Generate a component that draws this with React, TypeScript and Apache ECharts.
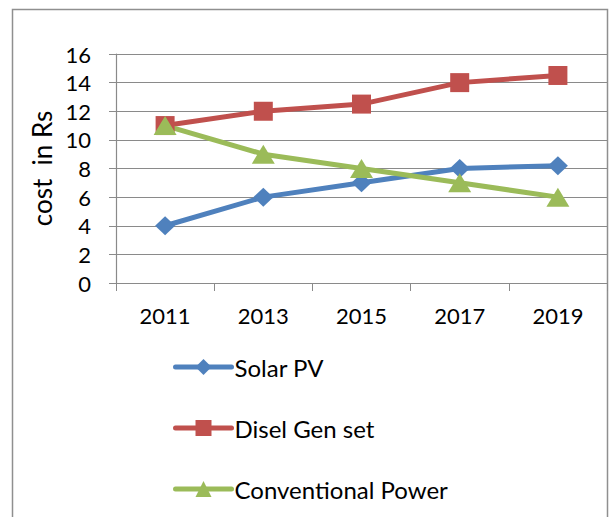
import React, { useEffect, useRef } from "react";
import * as echarts from "echarts";

const years = ["2011", "2013", "2015", "2017", "2019"];
const solarPV = [4, 6, 7, 8, 8.2];
const diselGen = [11, 12, 12.5, 14, 14.5];
const conventional = [11, 9, 8, 7, 6];
const seriesNames = ["Solar PV", "Disel Gen set", "Conventional Power"];
const yAxisName = "cost  in Rs";

const FONT = "Lato, 'Open Sans', sans-serif";
const GRID_COLOR = "#8a8a8a";

export default function App() {
  const ref = useRef<HTMLDivElement>(null);
  useEffect(() => {
    if (!ref.current) return;
    const chart = echarts.init(ref.current, undefined, { renderer: "svg" });
    chart.setOption({
      animation: false,
      backgroundColor: "#ffffff",
      textStyle: { fontFamily: FONT },
      graphic: [
        {
          type: "rect",
          shape: { x: 12.5, y: 9.5, width: 595, height: 520 },
          style: { fill: "none", stroke: "#8f8f8f", lineWidth: 1.5 },
          silent: true,
          z: -1,
        },
      ],
      grid: { left: 116, right: 2, top: 54, height: 229 },
      legend: {
        orient: "vertical",
        left: 173,
        top: 355,
        width: 400,
        height: 160,
        padding: 0,
        itemWidth: 56,
        itemHeight: 20,
        itemGap: 37,
        lineStyle: { width: 5 },
        textStyle: { fontSize: 24, lineHeight: 20, color: "#000", fontFamily: FONT, padding: [0, 0, 0, -2] },
        data: seriesNames,
      },
      xAxis: {
        type: "category",
        data: years,
        boundaryGap: true,
        axisLine: { lineStyle: { color: GRID_COLOR, width: 1.2 } },
        axisTick: { show: true, length: 8, lineStyle: { color: GRID_COLOR } },
        axisLabel: { fontSize: 22, color: "#000", margin: 21, fontFamily: FONT },
      },
      yAxis: {
        type: "value",
        min: 0,
        max: 16,
        interval: 2,
        name: yAxisName,
        nameLocation: "middle",
        nameGap: 58,
        nameTextStyle: { fontSize: 26, color: "#000", fontFamily: FONT },
        axisLine: { show: true, lineStyle: { color: GRID_COLOR, width: 1.2 } },
        axisTick: { show: true, inside: false, length: 7, lineStyle: { color: GRID_COLOR } },
        axisLabel: { fontSize: 22, color: "#000", margin: 25, fontFamily: FONT },
        splitLine: { show: true, lineStyle: { color: GRID_COLOR, width: 1.2 } },
      },
      series: [
        {
          name: seriesNames[0],
          type: "line",
          data: solarPV,
          symbol: "diamond",
          symbolSize: [20, 19],
          lineStyle: { color: "#4F81BD", width: 5, cap: "round" },
          itemStyle: { color: "#4F81BD" },
        },
        {
          name: seriesNames[1],
          type: "line",
          data: diselGen,
          symbol: "rect",
          symbolSize: 19,
          lineStyle: { color: "#C0504D", width: 5, cap: "round" },
          itemStyle: { color: "#C0504D" },
        },
        {
          name: seriesNames[2],
          type: "line",
          data: conventional,
          symbol: "triangle",
          symbolSize: [23, 19],
          lineStyle: { color: "#9BBB59", width: 5, cap: "round" },
          itemStyle: { color: "#9BBB59" },
        },
      ],
    });
    return () => chart.dispose();
  }, []);
  return (
    <div
      ref={ref}
      style={{ position: "fixed", left: 0, top: 0, width: 609, height: 517 }}
    />
  );
}
